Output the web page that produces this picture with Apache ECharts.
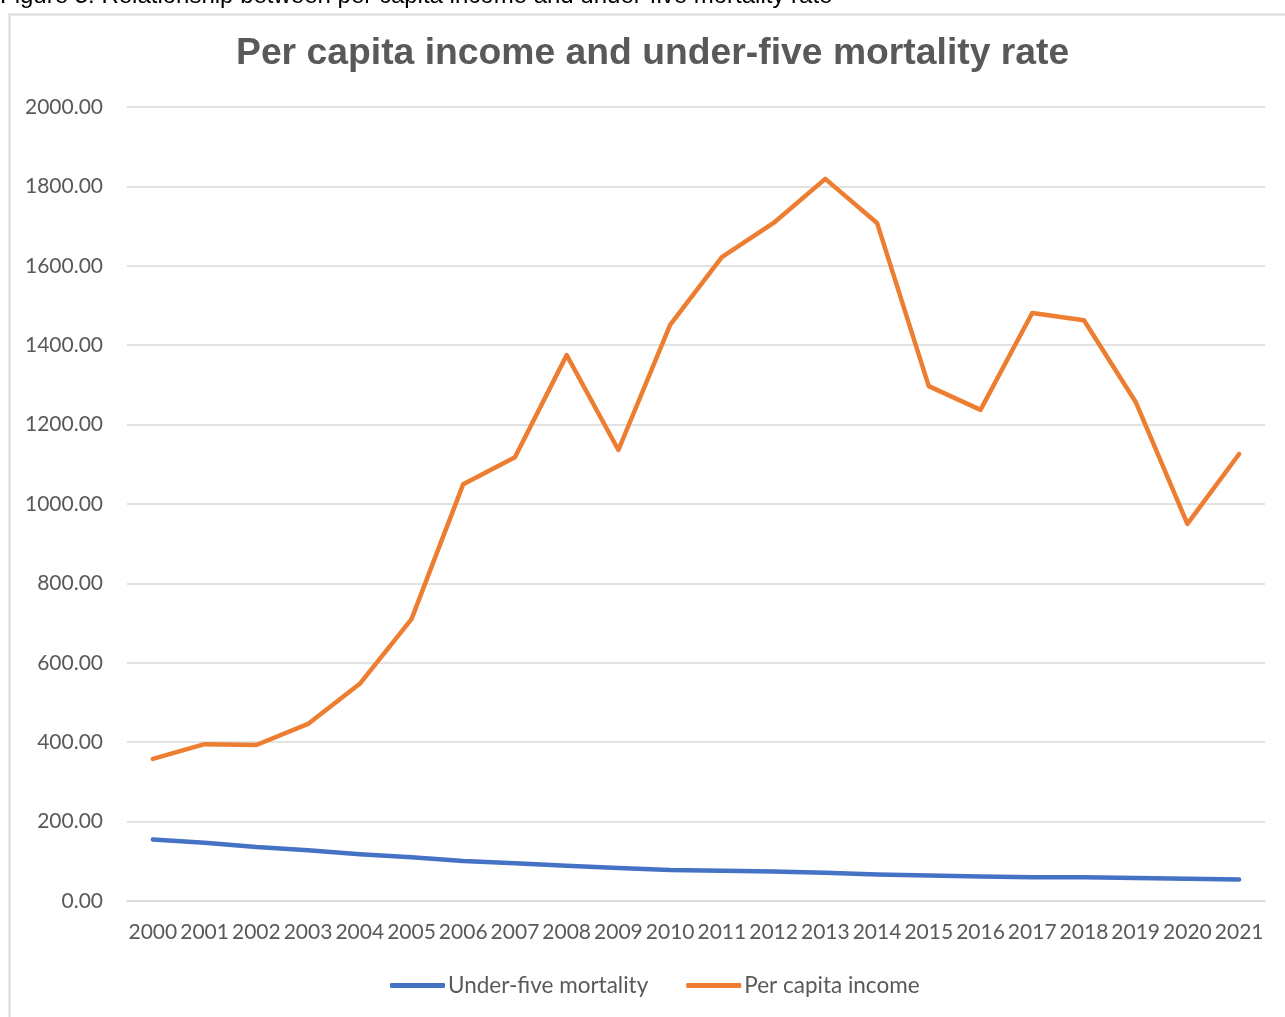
<!DOCTYPE html>
<html>
<head>
<meta charset="utf-8">
<script src="https://cdn.jsdelivr.net/npm/echarts@6/dist/echarts.min.js"></script>
<style>
  html, body { margin: 0; padding: 0; background: #fff; }
  #main { width: 1285px; height: 1017px; }
</style>
</head>
<body>
<div id="main"></div>
<script>
// data
var years = ["2000", "2001", "2002", "2003", "2004", "2005", "2006", "2007", "2008", "2009", "2010",
    "2011", "2012", "2013", "2014", "2015", "2016", "2017", "2018", "2019", "2020", "2021"];
var underFive = [155, 147, 136, 128, 118, 110, 101, 95, 89, 83, 78,
    76, 74, 71, 67, 64, 62, 60, 60, 58, 56, 54];
var perCapita = [358, 395, 393, 446, 547, 710, 1050, 1118, 1375, 1136, 1451,
    1622, 1708, 1819, 1708, 1297, 1237, 1481, 1463, 1257, 950, 1126];

var myChart = echarts.init(document.getElementById("main"));

var labelFont = "Lato, 'Open Sans', sans-serif";

var option = {
    backgroundColor: "#fff",
    animation: false,
    title: {
        text: "Per capita income and under-five mortality rate",
        left: 231,
        top: 30,
        textStyle: {
            fontFamily: "'Liberation Sans', Arial, sans-serif",
            fontSize: 37.3,
            fontWeight: "bold",
            color: "#595959",
        },
    },
    graphic: [
        {
            type: "rect",
            left: 7,
            top: 12,
            shape: { width: 1300, height: 1020 },
            style: { fill: null, stroke: "#d9d9d9", lineWidth: 2 },
            silent: true,
        },
        {
            type: "text",
            left: 0,
            top: -16,
            style: {
                text: "Figure 5: Relationship between per capita income and under-five mortality rate",
                font: "24px 'Liberation Sans', Arial, sans-serif",
                fill: "#000",
            },
            silent: true,
        },
    ],
    legend: {
        bottom: 15,
        left: 385,
        icon: "roundRect",
        itemWidth: 55,
        itemHeight: 5,
        itemGap: 38,
        textStyle: {
            fontFamily: labelFont,
            fontSize: 22.5,
            color: "#595959",
            padding: [0, 0, 0, -2],
        },
        data: ["Under-five mortality", "Per capita income"],
    },
    grid: {
        left: 127,
        right: 20,
        top: 107,
        bottom: 116,
        containLabel: false,
    },
    xAxis: {
        type: "category",
        data: years,
        boundaryGap: true,
        axisLine: { show: true, lineStyle: { color: "#d9d9d9", width: 1.5 } },
        axisTick: { show: false },
        axisLabel: {
            interval: 0,
            margin: 21,
            fontFamily: labelFont,
            fontSize: 21,
            color: "#595959",
        },
    },
    yAxis: {
        type: "value",
        min: 0,
        max: 2000,
        interval: 200,
        axisLine: { show: false },
        axisTick: { show: false },
        splitLine: { lineStyle: { color: "#d9d9d9", width: 1.5 } },
        axisLabel: {
            margin: 24,
            fontFamily: labelFont,
            fontSize: 21,
            color: "#595959",
            formatter: function (v) { return v.toFixed(2); },
        },
    },
    series: [
        {
            name: "Under-five mortality",
            type: "line",
            data: underFive,
            showSymbol: false,
            symbol: "none",
            color: "#4472C4",
            lineStyle: { width: 4.5, color: "#4472C4", cap: "round", join: "round" },
        },
        {
            name: "Per capita income",
            type: "line",
            data: perCapita,
            showSymbol: false,
            symbol: "none",
            color: "#ED7D31",
            lineStyle: { width: 4.5, color: "#ED7D31", cap: "round", join: "round" },
        },
    ],
};

myChart.setOption(option);
</script>
</body>
</html>
